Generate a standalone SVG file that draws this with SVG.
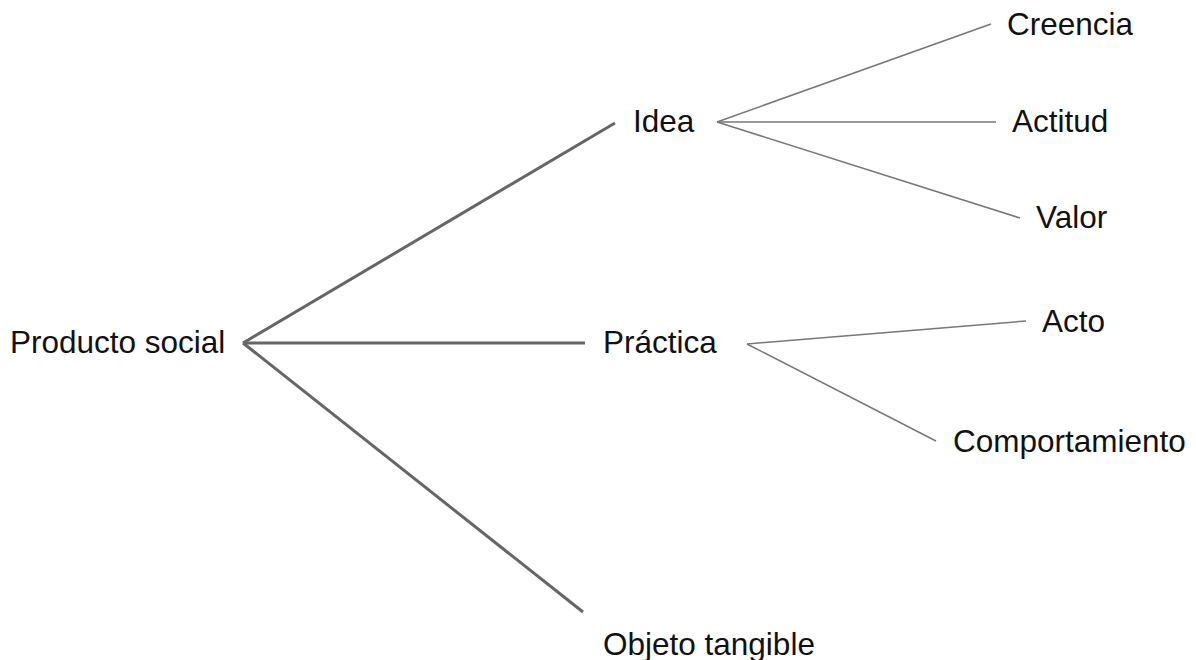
<svg xmlns="http://www.w3.org/2000/svg" width="1196" height="660" viewBox="0 0 1196 660">
<style>
text{font-family:"Liberation Sans",Arial,sans-serif;font-size:31.5px;fill:#111}
.thick{stroke:#666;stroke-width:3;fill:none}
.thin{stroke:#777;stroke-width:1.5;fill:none}
</style>
<rect width="1196" height="660" fill="#fff"/>
<g id="connectors">
<line class="thick" x1="243" y1="343" x2="615" y2="123"/>
<line class="thick" x1="243" y1="343" x2="585" y2="343"/>
<line class="thick" x1="243" y1="343" x2="583" y2="612"/>
<line class="thin" x1="717" y1="122" x2="991" y2="24"/>
<line class="thin" x1="717" y1="122" x2="996" y2="122"/>
<line class="thin" x1="717" y1="122" x2="1020" y2="218"/>
<line class="thin" x1="747" y1="344" x2="1026" y2="321"/>
<line class="thin" x1="747" y1="344" x2="936" y2="441"/>
</g>
<g id="producto"><text x="10" y="353">Producto social</text></g>
<g id="idea"><text x="633" y="132">Idea</text></g>
<g id="practica"><text x="603" y="353">Práctica</text></g>
<g id="objeto"><text x="603" y="655">Objeto tangible</text></g>
<g id="creencia"><text x="1007" y="35">Creencia</text></g>
<g id="actitud"><text x="1012" y="132">Actitud</text></g>
<g id="valor"><text x="1036" y="228">Valor</text></g>
<g id="acto"><text x="1042" y="332">Acto</text></g>
<g id="comportamiento"><text x="953" y="452">Comportamiento</text></g>
</svg>
